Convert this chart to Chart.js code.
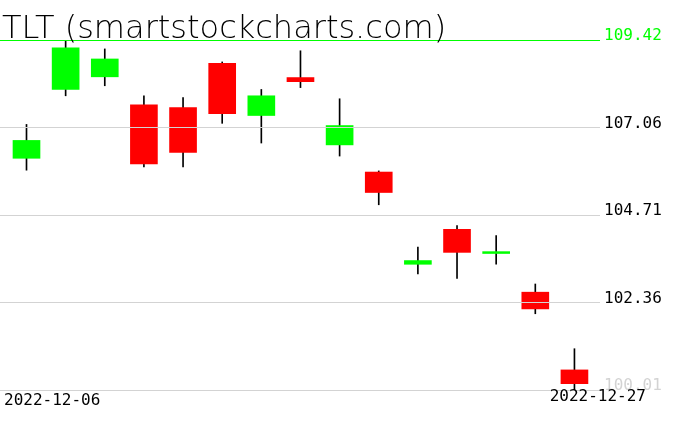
<!DOCTYPE html>
<html>
<head>
<meta charset="utf-8">
<script src="https://cdn.jsdelivr.net/npm/chart.js@4/dist/chart.umd.min.js"></script>
<style>
  html, body { margin: 0; padding: 0; background: #fff; }
</style>
</head>
<body>
<canvas id="chart" width="676" height="431"></canvas>
<script>
// ── Data ──
const title = 'TLT (smartstockcharts.com)';
const dates = [
  '2022-12-06', '2022-12-07', '2022-12-08', '2022-12-09', '2022-12-12',
  '2022-12-13', '2022-12-14', '2022-12-15', '2022-12-16', '2022-12-19',
  '2022-12-20', '2022-12-21', '2022-12-22', '2022-12-23', '2022-12-27',
];
const opens  = [106.24, 108.09, 108.43, 107.68, 107.60, 108.79, 107.39, 108.41, 106.60, 105.87, 103.39, 104.33, 103.68, 102.64, 100.55];
const highs  = [107.15, 109.42, 109.18, 107.92, 107.87, 108.83, 108.09, 109.13, 107.84, 105.90, 103.85, 104.43, 104.16, 102.86, 101.12];
const lows   = [105.92, 107.92, 108.19, 106.01, 106.01, 107.18, 106.65, 108.14, 106.30, 104.99, 103.13, 103.01, 103.39, 102.06, 100.01];
const closes = [106.72, 109.21, 108.91, 106.09, 106.40, 107.44, 107.92, 108.30, 107.12, 105.32, 103.49, 103.71, 103.73, 102.19, 100.18];
const yTicks = [100.01, 102.36, 104.71, 107.06, 109.42];

const UP = '#00ff00';
const DOWN = '#ff0000';

const wicks = dates.map((d, i) => ({ x: i, y: [lows[i], highs[i]] }));
const bodies = dates.map((d, i) => ({ x: i, y: [opens[i], closes[i]] }));
const bodyColors = dates.map((d, i) => closes[i] >= opens[i] ? UP : DOWN);

// title + first/last date, drawn straight onto the canvas
const textPlugin = {
  id: 'texts',
  afterDraw(chart) {
    const ctx = chart.ctx;
    ctx.save();
    ctx.fillStyle = '#000';
    ctx.textBaseline = 'alphabetic';
    ctx.font = '200 32px "DejaVu Sans"';
    ctx.textAlign = 'left';
    ctx.fillText(title, 2, 38);

    ctx.font = '16px "DejaVu Sans Mono"';
    ctx.fillText(dates[0], 4, 405);
    ctx.textAlign = 'right';
    ctx.fillText(dates[dates.length - 1], 646, 401);
    ctx.restore();
  },
};

new Chart(document.getElementById('chart'), {
  type: 'bar',
  data: {
    datasets: [
      {
        label: 'body',
        data: bodies,
        backgroundColor: bodyColors,
        barThickness: 27,
        grouped: false,
        order: 1,
      },
      {
        label: 'wick',
        data: wicks,
        backgroundColor: '#000',
        barThickness: 1,
        grouped: false,
        order: 2,
      },
    ],
  },
  options: {
    responsive: false,
    animation: false,
    layout: { padding: { top: 40, bottom: 41, left: 0, right: 0 } },
    plugins: {
      legend: { display: false },
      tooltip: { enabled: false },
    },
    scales: {
      x: {
        type: 'linear',
        display: false,
        offset: false,
        min: -0.677,
        max: 14.653,
      },
      y: {
        position: 'right',
        min: yTicks[0],
        max: yTicks[yTicks.length - 1],
        z: 1,
        afterBuildTicks(scale) {
          scale.ticks = yTicks.map(v => ({ value: v }));
        },
        afterFit(scale) { scale.width = 76; },
        border: { display: false },
        grid: {
          z: 1,
          drawTicks: false,
          color: (c) => c.index === yTicks.length - 1 ? UP : '#d3d3d3',
        },
        ticks: {
          padding: 4,
          labelOffset: -4,
          crossAlign: 'near',
          font: { family: 'DejaVu Sans Mono', size: 16 },
          color: (c) => c.index === yTicks.length - 1 ? UP : (c.index === 0 ? '#d3d3d3' : '#000'),
          callback: (v) => v.toFixed(2),
        },
      },
    },
  },
  plugins: [textPlugin],
});
</script>
</body>
</html>
